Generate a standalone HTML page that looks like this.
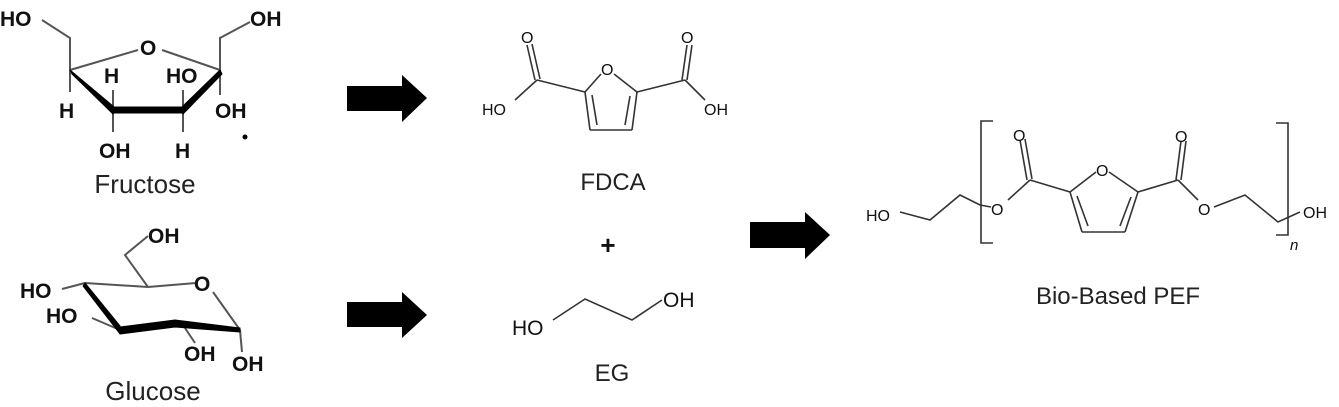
<!DOCTYPE html>
<html><head><meta charset="utf-8"><style>
html,body{margin:0;padding:0;background:#fff}
svg{display:block}
text{font-family:"Liberation Sans",Arial,sans-serif;fill:#111}
.b{font-weight:bold;font-size:21px}
.s{font-size:16px}
.l{font-size:24px;fill:#222}
.L{font-size:26px;fill:#222}
</style></head><body>
<svg width="1339" height="407" viewBox="0 0 1339 407" xmlns="http://www.w3.org/2000/svg">
<g stroke="#555" stroke-width="2" fill="none">
<!-- Fructose -->
<polyline points="42,20 70,38 70,70"/>
<line x1="70" y1="70" x2="138" y2="50"/>
<line x1="162" y1="50" x2="220" y2="70"/>
<polyline points="250,22 220,38 220,70"/>
<line x1="70" y1="70" x2="70" y2="92"/>
<line x1="113" y1="110" x2="113" y2="90"/>
<line x1="183" y1="110" x2="183" y2="90"/>
<line x1="220" y1="70" x2="220" y2="95"/>
<line x1="113" y1="110" x2="113" y2="132"/>
<line x1="183" y1="110" x2="183" y2="132"/>
<!-- Glucose -->
<polyline points="148,236 125,255 148,287"/>
<line x1="85" y1="283" x2="148" y2="287"/>
<line x1="148" y1="287" x2="196" y2="283"/>
<line x1="213" y1="292" x2="240" y2="330"/>
<line x1="62" y1="289" x2="85" y2="283"/>
<line x1="92" y1="318" x2="120" y2="330"/>
<line x1="183" y1="325" x2="195" y2="343"/>
<line x1="240" y1="330" x2="242" y2="352"/>
</g>
<g stroke="#000" stroke-linejoin="round" fill="#000">
<polygon points="70,70 113,106 113,114 72,74" stroke-width="1"/>
<line x1="113" y1="110" x2="183" y2="110" stroke-width="7"/>
<polygon points="183,106 220,70 222,74 183,114" stroke-width="1"/>
<polygon points="85,283 120,326 120,334 83,286" stroke-width="1"/>
<polygon points="120,327 175,320 240,328 240,332 175,327 120,334" stroke-width="1"/>
</g>
<!-- Fructose labels -->
<text class="b" x="0" y="26">HO</text>
<text class="b" x="250" y="26">OH</text>
<text class="b" x="140" y="55">O</text>
<text class="b" x="104" y="83">H</text>
<text class="b" x="166" y="83">HO</text>
<text class="b" x="59" y="118">H</text>
<text class="b" x="215" y="118">OH</text>
<text class="b" x="99" y="158">OH</text>
<text class="b" x="175" y="158">H</text>
<circle cx="245" cy="137" r="2.5" fill="#000"/>
<text class="L" x="145" y="193" text-anchor="middle">Fructose</text>
<!-- Glucose labels -->
<text class="b" x="148" y="243">OH</text>
<text class="b" x="194" y="291">O</text>
<text class="b" x="20" y="298">HO</text>
<text class="b" x="46" y="323">HO</text>
<text class="b" x="184" y="361">OH</text>
<text class="b" x="232" y="371">OH</text>
<text class="L" x="153" y="400" text-anchor="middle">Glucose</text>
<!-- Arrows -->
<polygon points="347,86 402,86 402,75 427,98 402,122 402,111 347,111" fill="#000"/>
<polygon points="347,302 402,302 402,292 427,315 402,338 402,327 347,327" fill="#000"/>
<polygon points="750,222 805,222 805,212 830,235 805,259 805,248 750,248" fill="#000"/>
<!-- FDCA -->
<g stroke="#333" stroke-width="1.6" fill="none">
<line x1="527" y1="45" x2="535" y2="80"/><line x1="532" y1="44" x2="540" y2="79"/>
<line x1="537" y1="80" x2="515" y2="100"/>
<line x1="537" y1="80" x2="585" y2="92"/>
<line x1="585" y1="92" x2="601" y2="74"/>
<line x1="614" y1="74" x2="637" y2="92"/>
<line x1="585" y1="92" x2="590" y2="130"/>
<line x1="592" y1="95" x2="597" y2="125"/>
<line x1="590" y1="130" x2="632" y2="130"/>
<line x1="632" y1="130" x2="637" y2="92"/>
<line x1="625" y1="125" x2="630" y2="96"/>
<line x1="637" y1="92" x2="685" y2="80"/>
<line x1="685" y1="80" x2="705" y2="100"/>
<line x1="687" y1="45" x2="682" y2="80"/><line x1="692" y1="45" x2="687" y2="80"/>
<!-- EG -->
<polyline points="553,320 585,299 632,320 662,300"/>
</g>
<text class="s" x="521" y="43">O</text>
<text class="s" x="681" y="43">O</text>
<text class="s" x="601" y="75">O</text>
<text class="s" x="482" y="115">HO</text>
<text class="s" x="704" y="115">OH</text>
<text class="l" x="613" y="190" text-anchor="middle">FDCA</text>
<text x="608" y="254" text-anchor="middle" style="font-size:26px;font-weight:bold">+</text>
<text x="512" y="335" style="font-size:21px">HO</text>
<text x="663" y="307" style="font-size:21px">OH</text>
<text class="l" x="612" y="381" text-anchor="middle">EG</text>
<!-- PEF -->
<g stroke="#333" stroke-width="1.6" fill="none">
<polyline points="900,212 930,220 960,195 980,205 991,207"/>
<polyline points="993,121 981,121 981,243 993,243"/>
<line x1="1008" y1="200" x2="1030" y2="180"/>
<line x1="1020" y1="140" x2="1027" y2="180"/><line x1="1025" y1="139" x2="1032" y2="179"/>
<line x1="1030" y1="180" x2="1070" y2="192"/>
<line x1="1070" y1="192" x2="1096" y2="172"/>
<line x1="1109" y1="172" x2="1138" y2="192"/>
<line x1="1070" y1="192" x2="1082" y2="232"/>
<line x1="1077" y1="196" x2="1088" y2="226"/>
<line x1="1082" y1="232" x2="1125" y2="232"/>
<line x1="1125" y1="232" x2="1138" y2="192"/>
<line x1="1120" y1="226" x2="1131" y2="197"/>
<line x1="1138" y1="192" x2="1178" y2="180"/>
<line x1="1181" y1="141" x2="1176" y2="180"/><line x1="1186" y1="141" x2="1181" y2="180"/>
<line x1="1178" y1="180" x2="1198" y2="200"/>
<polyline points="1214,207 1245,195 1278,222 1300,212"/>
<polyline points="1276,123 1288,123 1288,235 1276,235"/>
</g>
<text class="s" x="866" y="221">HO</text>
<text class="s" x="991" y="215">O</text>
<text class="s" x="1013" y="141">O</text>
<text class="s" x="1096" y="176">O</text>
<text class="s" x="1175" y="142">O</text>
<text class="s" x="1198" y="215">O</text>
<text class="s" x="1303" y="218">OH</text>
<text x="1290" y="250" style="font-size:15px;font-style:italic">n</text>
<text class="l" x="1118" y="304" text-anchor="middle">Bio-Based PEF</text>
</svg>
</body></html>
